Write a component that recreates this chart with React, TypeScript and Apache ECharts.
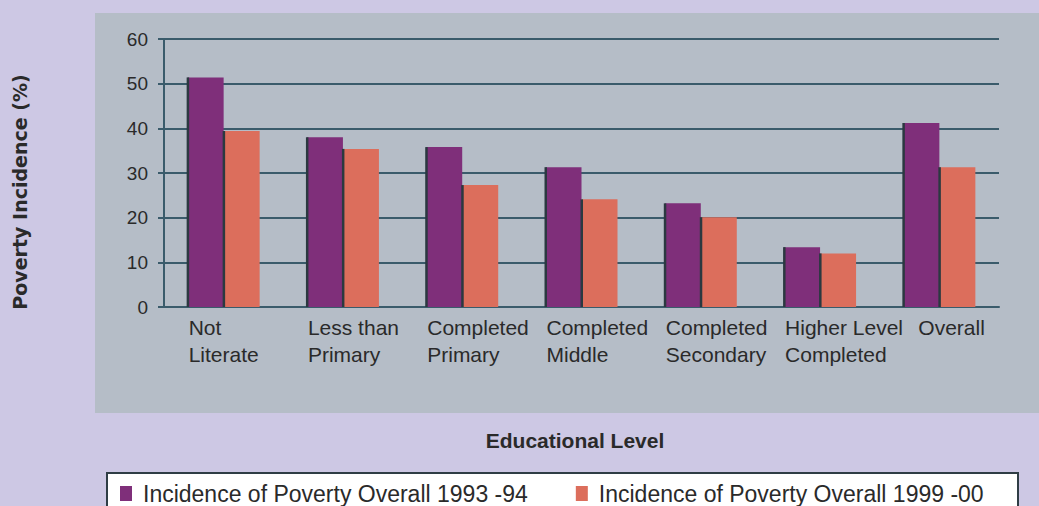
import React, { useEffect, useRef } from "react";
import * as echarts from "echarts";

const categories = [
  "Not\nLiterate",
  "Less than\nPrimary",
  "Completed\nPrimary",
  "Completed\nMiddle",
  "Completed\nSecondary",
  "Higher Level\nCompleted",
  "Overall",
];
const series1993 = [51.4, 38.0, 35.8, 31.3, 23.2, 13.4, 41.2];
const series1999 = [39.4, 35.4, 27.3, 24.1, 20.1, 12.0, 31.3];
const seriesNames = [
  "Incidence of Poverty Overall 1993 -94",
  "Incidence of Poverty Overall 1999 -00",
];
const yTicks = { min: 0, max: 60, interval: 10 };
const xAxisTitle = "Educational Level";
const yAxisTitle = "Poverty Incidence (%)";

const FONT = "'Liberation Sans', Arial, Helvetica, sans-serif";
const TEXT = "#2a2a2a";
const LINE = "#3a5b6b";
const EDGE = "#2b3940";
const PURPLE = "#7f2f7a";
const ORANGE = "#dc6e5c";
const BAR_W = 36;

function edgeSeries(values: number[], offset: number) {
  return {
    type: "custom",
    z: 3,
    silent: true,
    data: values.map((v, i) => [i, v]),
    encode: { x: 0, y: 1 },
    renderItem: (params: any, api: any) => {
      const top = api.coord([api.value(0), api.value(1)]);
      const base = api.coord([api.value(0), 0]);
      return {
        type: "rect",
        shape: {
          x: top[0] + offset - 1,
          y: top[1],
          width: 2.5,
          height: base[1] - top[1],
        },
        style: { fill: EDGE },
      };
    },
  };
}

export default function App() {
  const ref = useRef<HTMLDivElement>(null);
  useEffect(() => {
    if (!ref.current) return;
    const chart = echarts.init(ref.current, null, { renderer: "svg" });
    const labelStyle = {
      fontFamily: FONT,
      fontSize: 21,
      lineHeight: 27,
      color: TEXT,
      align: "left",
    };
    chart.setOption({
      animation: false,
      backgroundColor: "#cdc8e4",
      graphic: [
        {
          type: "rect",
          z: -10,
          shape: { x: 95, y: 13, width: 944, height: 400 },
          style: { fill: "#b5bdc7" },
        },
        {
          type: "rect",
          z: 1,
          shape: { x: 107, y: 473, width: 911, height: 40 },
          style: { fill: "#ffffff", stroke: "#2f3d45", lineWidth: 2 },
        },
        {
          type: "text",
          x: 20,
          y: 192,
          rotation: Math.PI / 2,
          style: {
            text: yAxisTitle,
            fontFamily: "'DejaVu Sans', sans-serif",
            fontWeight: "bold",
            fontSize: 19,
            fill: TEXT,
            align: "center",
            verticalAlign: "middle",
          },
        },
        {
          type: "text",
          x: 575,
          y: 440,
          style: {
            text: xAxisTitle,
            fontFamily: FONT,
            fontWeight: "bold",
            fontSize: 21,
            fill: TEXT,
            align: "center",
            verticalAlign: "middle",
          },
        },
      ],
      grid: { left: 164, right: 40, top: 39, bottom: 199 },
      legend: {
        z: 5,
        left: 120,
        top: 482,
        padding: 0,
        itemGap: 48,
        itemWidth: 12,
        itemHeight: 15,
        icon: "rect",
        textStyle: {
          fontFamily: FONT,
          fontSize: 23,
          color: TEXT,
          padding: [0, 0, 0, 6],
        },
        data: seriesNames,
      },
      xAxis: {
        type: "category",
        data: categories,
        axisLine: { lineStyle: { color: LINE, width: 2 } },
        axisTick: { length: 6, lineStyle: { color: LINE, width: 2 } },
        axisLabel: {
          margin: 7,
          interval: 0,
          formatter: (v: string) =>
            v
              .split("\n")
              .map((l) => `{${v === "Overall" ? "b" : "a"}|${l}}`)
              .join("\n"),
          rich: {
            a: { ...labelStyle, width: 70 },
            b: { ...labelStyle, width: 42 },
          },
        },
      },
      yAxis: {
        type: "value",
        min: yTicks.min,
        max: yTicks.max,
        interval: yTicks.interval,
        axisLine: { show: true, lineStyle: { color: LINE, width: 2 } },
        axisTick: { show: true, length: 6, lineStyle: { color: LINE, width: 2 } },
        axisLabel: {
          margin: 16,
          fontFamily: FONT,
          fontSize: 19,
          color: TEXT,
        },
        splitLine: { lineStyle: { color: LINE, width: 2 } },
      },
      series: [
        {
          name: seriesNames[0],
          type: "bar",
          data: series1993,
          barWidth: BAR_W,
          barGap: "0%",
          itemStyle: { color: PURPLE },
        },
        {
          name: seriesNames[1],
          type: "bar",
          data: series1999,
          barWidth: BAR_W,
          barGap: "0%",
          itemStyle: { color: ORANGE },
        },
        edgeSeries(series1993, -BAR_W),
        edgeSeries(series1999, 0),
      ],
    });
    return () => chart.dispose();
  }, []);
  return (
    <div
      ref={ref}
      style={{ position: "fixed", left: 0, top: 0, width: 1039, height: 506 }}
    />
  );
}
